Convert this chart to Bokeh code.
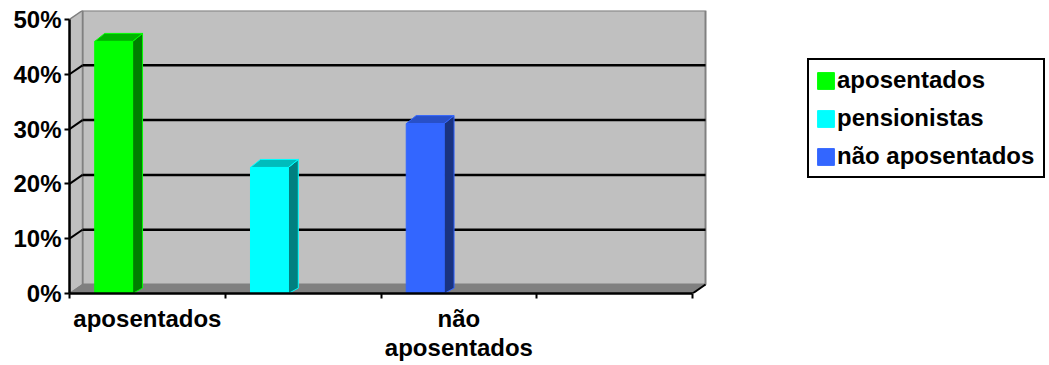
from bokeh.plotting import figure
from bokeh.models import (Range1d, FixedTicker, NumeralTickFormatter, Legend,
                          LegendItem, LinearAxis)
from bokeh.embed import file_html
from bokeh.resources import INLINE

# Data
categories = ["aposentados", "pensionistas", "não aposentados", ""]
shares = [0.46, 0.23, 0.31]
bar_labels = ["aposentados", "pensionistas", "não aposentados"]
axis_labels = {0.5: "aposentados", 2.5: "não\naposentados"}
y_ticks = [0.0, 0.1, 0.2, 0.3, 0.4, 0.5]

front_colors = ["#00ff00", "#00ffff", "#3366ff"]
side_colors = ["#008000", "#008080", "#1a3380"]
top_colors = ["#00b400", "#00bcbc", "#2850c8"]

FONT = "Liberation Sans"
n_slots = len(categories)
y_max = y_ticks[-1]

# depth of the wall/floor box and of each column (data units)
DX, DY = 0.0835, 0.0164
BDX, BDY = 0.064, 0.0146
BAR_OFF, BAR_W = 0.162, 0.243

# the frame runs to the right edge so the legend sits inside it
p = figure(width=1049, height=365, output_backend="svg", toolbar_location=None,
           x_range=Range1d(0, 6.292), y_range=Range1d(0, 0.5164),
           min_border_left=69, min_border_right=0, min_border_top=10,
           min_border_bottom=72)
p.outline_line_color = None
p.grid.visible = False
p.xaxis.visible = False
p.yaxis.visible = False

# back wall
p.quad(left=DX, right=n_slots + DX, bottom=DY, top=y_max + DY,
       fill_color="#c0c0c0", line_color="#808080", line_width=2)
# left side wall
p.patch([0, 0, DX, DX], [0, y_max, y_max + DY, DY],
        fill_color="#c0c0c0", line_color="#808080", line_width=1.5)
# floor
p.patch([0, n_slots, n_slots + DX, DX], [0, 0, DY, DY],
        fill_color="#808080", line_color="#808080", line_width=1)
p.segment(x0=[n_slots], y0=[0], x1=[n_slots + DX], y1=[DY],
          line_color="black", line_width=2)

# gridlines on back and side walls
g = y_ticks[1:-1]
p.segment(x0=[DX] * len(g), y0=[t + DY for t in g],
          x1=[n_slots + DX] * len(g), y1=[t + DY for t in g],
          line_color="black", line_width=2.5)
p.segment(x0=[0] * len(g), y0=g, x1=[DX] * len(g), y1=[t + DY for t in g],
          line_color="black", line_width=2)

# columns
items = []
for i, v in enumerate(shares):
    x0 = i + BAR_OFF
    x1 = x0 + BAR_W
    p.patch([x1, x1 + BDX, x1 + BDX, x1], [0, DY * 0.6, v + BDY, v],
            fill_color=side_colors[i], line_color=front_colors[i], line_width=1)
    p.patch([x0, x0 + BDX, x1 + BDX, x1], [v, v + BDY, v + BDY, v],
            fill_color=top_colors[i], line_color=front_colors[i], line_width=1)
    r = p.quad(left=x0, right=x1, bottom=0, top=v,
               fill_color=front_colors[i], line_color=front_colors[i], line_width=1)
    items.append(LegendItem(label=bar_labels[i], renderers=[r]))

# axes
ya = LinearAxis(ticker=FixedTicker(ticks=y_ticks), bounds=(0, y_max),
                formatter=NumeralTickFormatter(format="0%"))
ya.axis_line_width = 2.5
ya.axis_line_color = "black"
ya.major_tick_out = 5
ya.major_tick_in = 0
ya.major_tick_line_width = 2
ya.minor_tick_line_color = None
ya.major_label_standoff = 3
ya.major_label_text_font = FONT
ya.major_label_text_font_style = "bold"
ya.major_label_text_font_size = "24px"
ya.major_label_text_color = "black"
p.add_layout(ya, "left")

xa = LinearAxis(ticker=FixedTicker(ticks=list(axis_labels.keys()),
                                   minor_ticks=list(range(n_slots + 1))),
                bounds=(0, n_slots))
xa.major_label_overrides = axis_labels
xa.axis_line_width = 2.5
xa.axis_line_color = "black"
xa.major_tick_out = 0
xa.major_tick_in = 0
xa.major_tick_line_color = None
xa.minor_tick_out = 5
xa.minor_tick_in = 0
xa.minor_tick_line_width = 2
xa.minor_tick_line_color = "black"
xa.major_label_standoff = 6
xa.major_label_text_font = FONT
xa.major_label_text_font_style = "bold"
xa.major_label_text_font_size = "24px"
xa.major_label_text_color = "black"
xa.major_label_text_line_height = 1.1
p.add_layout(xa, "below")

legend = Legend(items=items, location=(738, 115))
legend.border_line_color = "black"
legend.border_line_alpha = 1
legend.border_line_width = 2
legend.background_fill_color = "white"
legend.background_fill_alpha = 1
legend.padding = 6
legend.margin = 0
legend.spacing = 10
legend.glyph_width = 21
legend.glyph_height = 21
legend.label_height = 24
legend.label_width = 200
legend.label_standoff = 1
legend.label_text_font = FONT
legend.label_text_font_style = "bold"
legend.label_text_font_size = "24px"
legend.label_text_color = "black"
p.add_layout(legend, "center")

open("out.html", "w").write(file_html(p, INLINE))
